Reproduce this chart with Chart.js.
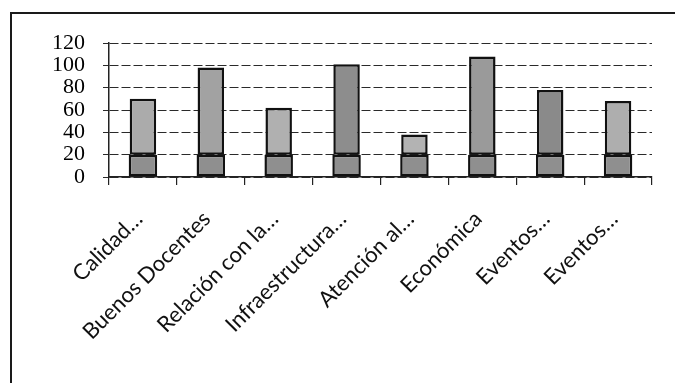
<!DOCTYPE html>
<html>
<head>
<meta charset="utf-8">
<script src="https://cdn.jsdelivr.net/npm/chart.js@4.4.1/dist/chart.umd.min.js"></script>
<style>
  html, body { margin: 0; padding: 0; background: #ffffff; }
  #wrap { width: 675px; height: 383px; position: relative; }
</style>
</head>
<body>
<div id="wrap"><canvas id="chart" width="675" height="383"></canvas></div>
<script>
// Categories (labels are shortened with an ellipsis, as shown on the axis)
const categories = [
  'Calidad…',
  'Buenos Docentes',
  'Relación con la…',
  'Infraestructura…',
  'Atención al…',
  'Económica',
  'Eventos…',
  'Eventos…'
];

// Lower stacked segment of each bar
const baseValues = [20, 20, 20, 20, 20, 20, 20, 20];
// Upper stacked segment of each bar (total height minus the lower segment)
const upperValues = [50, 78, 42, 81, 18, 88, 58, 48];

// Y axis ticks
const yTicks = [0, 20, 40, 60, 80, 100, 120];

// Outer frame: a line along the top and down the left side
const framePlugin = {
  id: 'frame',
  beforeDraw(chart) {
    const ctx = chart.ctx;
    ctx.save();
    ctx.strokeStyle = '#1a1a1a';
    ctx.lineWidth = 2;
    ctx.beginPath();
    ctx.moveTo(11, 383);
    ctx.lineTo(11, 13);
    ctx.lineTo(675, 13);
    ctx.stroke();
    ctx.restore();
  }
};

new Chart(document.getElementById('chart'), {
  type: 'bar',
  data: {
    labels: categories,
    datasets: [
      {
        data: baseValues,
        backgroundColor: '#8f8f8f',
        borderColor: '#111111',
        borderWidth: 2.5,
        borderSkipped: false,
        barPercentage: 0.42,
        categoryPercentage: 1
      },
      {
        data: upperValues,
        backgroundColor: ['#ababab', '#a2a2a2', '#b0b0b0', '#8d8d8d', '#b3b3b3', '#9a9a9a', '#8a8a8a', '#aeaeae'],
        borderColor: '#111111',
        borderWidth: 2.5,
        borderSkipped: false,
        barPercentage: 0.39,
        categoryPercentage: 1
      }
    ]
  },
  options: {
    responsive: false,
    animation: false,
    layout: { padding: { left: 34, right: 23, top: 43, bottom: 0 } },
    plugins: {
      legend: { display: false },
      tooltip: { enabled: false }
    },
    scales: {
      x: {
        stacked: true,
        afterFit(scale) {
          // reserve a fixed band under the plot for the slanted labels
          scale.height = 206;
        },
        border: { display: true, color: '#222222', width: 1.5 },
        grid: {
          offset: true,
          drawOnChartArea: false,
          drawTicks: true,
          tickLength: 8,
          color: '#222222',
          lineWidth: 1.2
        },
        ticks: {
          autoSkip: false,
          maxRotation: 45,
          minRotation: 45,
          color: '#111111',
          padding: 21,
          labelOffset: -4,
          font: { family: 'Lato', size: 22 }
        }
      },
      y: {
        stacked: true,
        min: 0,
        max: 120,
        afterBuildTicks(scale) {
          scale.ticks = yTicks.map(v => ({ value: v }));
        },
        border: { display: true, color: '#222222', width: 1.5, dash: [9, 3] },
        grid: {
          color: '#2a2a2a',
          lineWidth: 1,
          tickLength: 6,
          tickBorderDash: []
        },
        ticks: {
          autoSkip: false,
          color: '#000000',
          padding: 18,
          font: { family: 'Liberation Serif', size: 22 }
        }
      }
    }
  },
  plugins: [framePlugin]
});
</script>
</body>
</html>
